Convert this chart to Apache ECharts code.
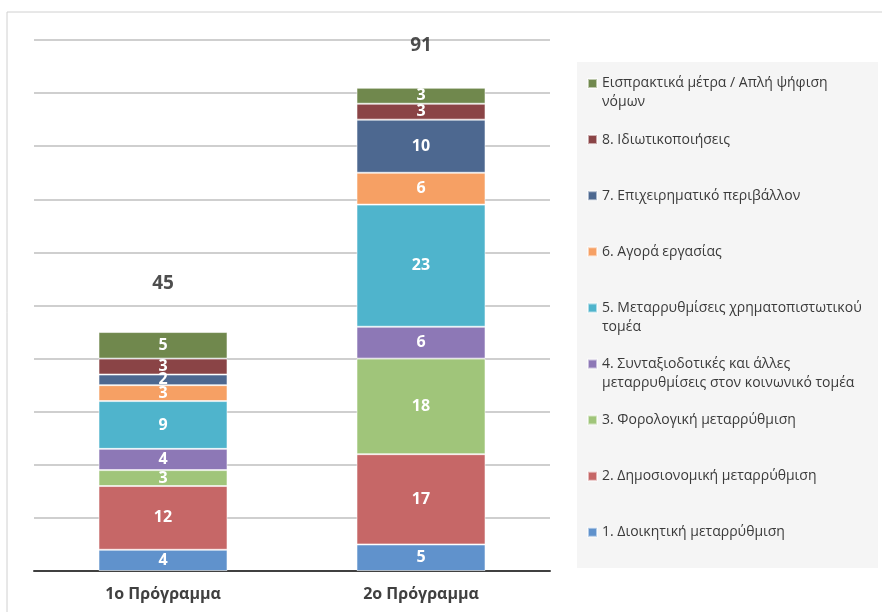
<!DOCTYPE html>
<html><head><meta charset="utf-8">
<script src="https://cdn.jsdelivr.net/npm/echarts@6/dist/echarts.min.js"></script>
<style>html,body{margin:0;padding:0;background:#fff}#c{width:882px;height:612px}</style>
</head><body><div id="c"></div>
<script>
const categories = ['1ο Πρόγραμμα', '2ο Πρόγραμμα'];
const seriesNames = [
  '1. Διοικητική μεταρρύθμιση',
  '2. Δημοσιονομική μεταρρύθμιση',
  '3. Φορολογική μεταρρύθμιση',
  '4. Συνταξιοδοτικές και άλλες\nμεταρρυθμίσεις στον κοινωνικό τομέα',
  '5. Μεταρρυθμίσεις χρηματοπιστωτικού\nτομέα',
  '6. Αγορά εργασίας',
  '7. Επιχειρηματικό περιβάλλον',
  '8. Ιδιωτικοποιήσεις',
  'Εισπρακτικά μέτρα / Απλή ψήφιση\nνόμων'
];
const s1 = [4, 5];
const s2 = [12, 17];
const s3 = [3, 18];
const s4 = [4, 6];
const s5 = [9, 23];
const s6 = [3, 6];
const s7 = [2, 10];
const s8 = [3, 3];
const s9 = [5, 3];
const seriesValues = [s1, s2, s3, s4, s5, s6, s7, s8, s9];
const colors = ['#6092CC', '#C66767', '#A0C57A', '#8D78B6', '#4FB4CC', '#F6A064', '#4D6890', '#8A4446', '#70884D'];
const totals = categories.map((c, i) => seriesValues.reduce((a, s) => a + s[i], 0));

const FONT = '"Open Sans", sans-serif';
const chart = echarts.init(document.getElementById('c'), null, {renderer: 'canvas'});
const series = seriesValues.map((vals, k) => ({
  name: seriesNames[k],
  type: 'bar',
  stack: 'total',
  barWidth: '50%',
  data: vals,
  itemStyle: {color: colors[k], borderColor: 'rgba(255,255,255,0.55)', borderWidth: 1},
  label: {show: true, position: 'inside', color: '#fff', fontWeight: 'bold', fontSize: 16, fontFamily: FONT},
  emphasis: {disabled: true}
}));
series.push({
  name: 'total',
  type: 'scatter',
  symbolSize: 0,
  data: totals.map((v, i) => ({value: v, label: {distance: i === 0 ? 39 : 33}})),
  label: {show: true, position: 'top', color: '#222', fontWeight: 'bold', fontSize: 19, fontFamily: FONT},
  z: 10
});
const legendNames = seriesNames.slice().reverse();
chart.setOption({
  animation: false,
  backgroundColor: '#fff',
  color: colors,
  graphic: [
    {type: 'rect', shape: {x: 7, y: 12, width: 900, height: 620}, style: {fill: 'none', stroke: '#D0D0D0', lineWidth: 1}, z: -10},
    {type: 'rect', shape: {x: 577, y: 62, width: 301, height: 506}, style: {fill: '#F5F5F5'}, z: -5}
  ],
  grid: {left: 34, right: 332, top: 40, bottom: 41, containLabel: false},
  xAxis: {
    type: 'category', data: categories,
    axisLine: {lineStyle: {color: '#404040', width: 2}},
    axisTick: {show: false},
    axisLabel: {color: '#404040', fontWeight: 'bold', fontSize: 16, fontFamily: FONT, margin: 15}
  },
  yAxis: {
    type: 'value', min: 0, max: 100, interval: 10,
    axisLabel: {show: false}, axisLine: {show: false}, axisTick: {show: false},
    splitLine: {lineStyle: {color: '#BFBFBF', width: 1.5}}
  },
  legend: {
    orient: 'vertical', left: 587, top: 55, padding: 0,
    data: legendNames,
    itemWidth: 9, itemHeight: 9, icon: 'rect',
    itemGap: -0.9,
    formatter: n => n.indexOf('\n') >= 0 ? '\n' + n : '\n' + n + '\n',
    textStyle: {color: '#3a3a3a', fontSize: 14, fontFamily: FONT, lineHeight: 19}
  },
  series: series
});
</script></body></html>
